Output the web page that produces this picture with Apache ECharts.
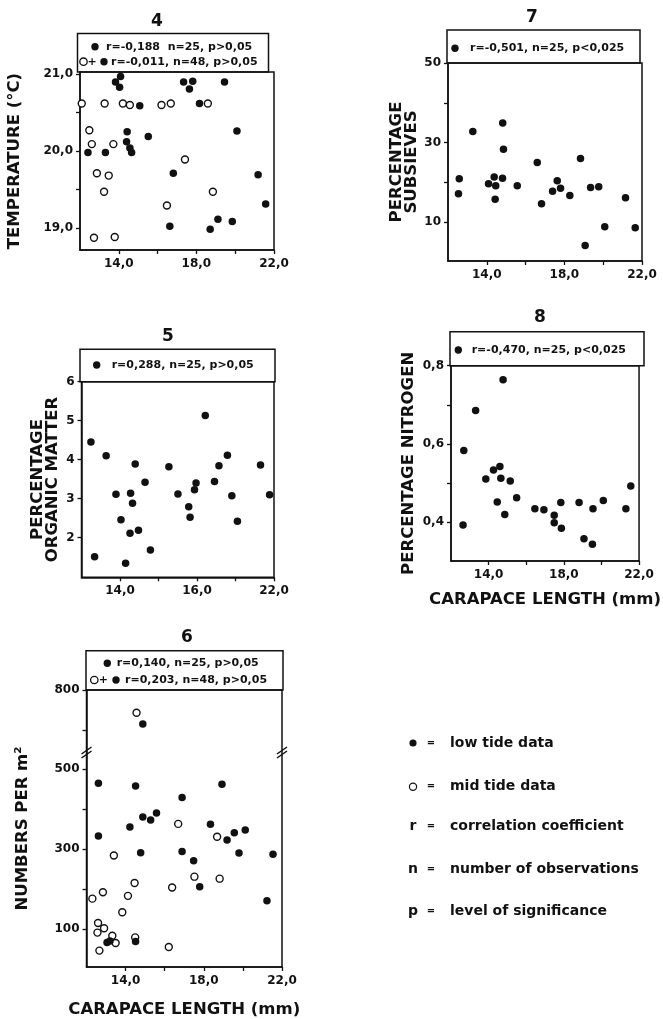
<!DOCTYPE html>
<html>
<head>
<meta charset="utf-8">
<script src="https://cdn.jsdelivr.net/npm/echarts@6.0.0/dist/echarts.min.js"></script>
<style>
html, body { margin: 0; padding: 0; background: #fff; }
#chart { width: 663px; height: 1019px; }
</style>
</head>
<body>
<div id="chart"></div>
<script>
// x axis (carapace length, mm) - same for all panels
var xTickValues = [14, 16, 18, 20, 22];
var xLabelValues = [14, 18, 22];
var xLabels = ['14,0', '18,0', '22,0'];
var xLabels5 = ['14,0', '16,0', '22,0'];

// 4: temperature
var tempLow = [[12.41,19.98],[13.31,19.98],[13.83,20.90],[14.09,20.97],[14.04,20.83],[14.43,20.25],[14.40,20.12],
  [14.57,20.04],[14.66,19.98],[15.08,20.59],[15.52,20.19],[16.81,19.71],[16.63,19.02],[17.34,20.90],[17.64,20.81],
  [17.81,20.91],[18.16,20.62],[18.71,18.98],[19.11,19.11],[19.45,20.90],[19.85,19.08],[20.09,20.26],[21.18,19.69],[21.57,19.31]];
var tempMid = [[12.09,20.62],[12.48,20.27],[12.61,20.09],[12.87,19.71],[13.24,19.47],[13.48,19.68],[12.72,18.87],
  [13.79,18.88],[13.27,20.62],[13.72,20.09],[14.21,20.62],[14.57,20.60],[16.20,20.60],[16.68,20.62],[16.48,19.29],
  [17.41,19.89],[18.59,20.62],[18.85,19.47]];
var tempTicks = [19, 19.5, 20, 20.5, 21];
var tempLabelValues = [19, 20, 21];
var tempLabels = ['19,0', '20,0', '21,0'];

// 7: percentage subsieves
var subLow = [[12.54,17.1],[12.58,20.9],[13.28,32.8],[14.09,19.6],[14.38,21.3],[14.46,19.1],[14.43,15.7],[14.81,21.0],
  [14.82,34.9],[14.86,28.3],[15.57,19.1],[16.60,25.0],[16.82,14.6],[17.39,17.75],[17.63,20.4],[17.80,18.5],
  [18.28,16.7],[18.83,26.0],[19.07,4.1],[19.35,18.7],[19.77,18.9],[20.08,8.8],[21.15,16.1],[21.65,8.55]];
var subTicks = [10, 20, 30, 40, 50];
var subLabelValues = [10, 30, 50];
var subLabels = ['10', '30', '50'];

// 5: percentage organic matter
var orgLow = [[12.49,4.45],[12.68,1.51],[13.28,4.10],[13.79,3.11],[14.05,2.46],[14.29,1.34],[14.52,2.11],[14.55,3.14],
  [14.65,2.88],[14.79,3.89],[14.96,2.19],[15.30,3.42],[15.58,1.68],[16.54,3.82],[17.01,3.12],[17.57,2.79],
  [17.64,2.52],[17.87,3.23],[17.95,3.40],[18.43,5.13],[18.91,3.44],[19.14,3.84],[19.58,4.11],[19.81,3.07],
  [20.10,2.42],[21.30,3.86],[21.77,3.10]];
var orgTicks = [2, 3, 4, 5, 6];
var orgLabels = ['2', '3', '4', '5', '6'];

// 8: percentage nitrogen
var nitLow = [[12.68,0.583],[12.64,0.392],[13.31,0.685],[13.85,0.510],[14.26,0.533],[14.60,0.542],[14.65,0.512],
  [14.46,0.451],[14.77,0.764],[14.86,0.419],[15.15,0.505],[15.49,0.462],[16.46,0.434],[16.94,0.431],[17.49,0.417],
  [17.49,0.398],[17.84,0.450],[17.87,0.384],[18.81,0.450],[19.07,0.357],[19.55,0.434],[19.52,0.343],[20.10,0.455],
  [21.30,0.434],[21.56,0.492]];
var nitTicks = [0.4, 0.5, 0.6, 0.7, 0.8];
var nitLabelValues = [0.4, 0.6, 0.8];
var nitLabels = ['0,4', '0,6', '0,8'];

// 6: numbers per m2
var numLow = [[12.61,465],[12.61,333],[13.05,66],[13.2,70],[14.22,355],[14.51,458],[14.51,69],[14.77,291],[14.88,380],
  [14.88,715],[15.28,373],[15.58,390],[16.89,429],[16.89,294],[17.48,271],[17.79,206],[18.34,362],[18.93,462],
  [19.19,323],[19.56,341],[19.80,290],[20.12,348],[21.23,171],[21.54,287]];
var numMid = [[14.56,743],[13.40,284],[12.30,176],[12.84,192],[12.59,115],[12.56,91],[12.90,102],[12.66,46],
  [13.32,83],[13.49,65],[13.83,142],[14.12,183],[14.46,215],[14.49,79],[16.38,204],[16.21,55],[16.69,363],
  [17.52,231],[18.68,331],[18.81,226]];
var numTicks = [100, 200, 300, 400, 500, 700, 800];
var numLabelValues = [100, 300, 500, 800];
var numLabels = ['100', '300', '500', '800'];

var stats4 = ['r=-0,188  n=25, p>0,05', 'r=-0,011, n=48, p>0,05'];
var stats7 = ['r=-0,501, n=25, p<0,025'];
var stats5 = ['r=0,288, n=25, p>0,05'];
var stats8 = ['r=-0,470, n=25, p<0,025'];
var stats6 = ['r=0,140, n=25, p>0,05', 'r=0,203, n=48, p>0,05'];

var legendKeys = ['low', 'mid', 'r', 'n', 'p'];
var legendTexts = ['low tide data', 'mid tide data', 'correlation coefficient', 'number of observations', 'level of significance'];

var INK = '#111';
var FONT = 'DejaVu Sans';

var chart = echarts.init(document.getElementById('chart'));

function labelFor(values, labels) {
    return function (v) {
        for (var i = 0; i < values.length; i++) {
            if (Math.abs(values[i] - v) < 1e-6) return labels[i];
        }
        return '';
    };
}

function xAxisFor(idx, labels, name) {
    return {
        type: 'value', gridIndex: idx, min: 12, max: 22,
        axisLine: { show: true, lineStyle: { color: INK, width: 1.5 } },
        axisTick: { show: true, length: 4, lineStyle: { color: INK, width: 1.3 }, customValues: xTickValues },
        axisLabel: { customValues: xLabelValues, formatter: labelFor(xLabelValues, labels), color: INK,
            fontFamily: FONT, fontWeight: 'bold', fontSize: 12, margin: 8, showMaxLabel: true },
        splitLine: { show: false },
        name: name || '', nameLocation: 'middle', nameGap: 30,
        nameTextStyle: { color: INK, fontFamily: FONT, fontWeight: 'bold', fontSize: 16.5 }
    };
}

function yAxisFor(idx, min, max, ticks, labelValues, labels, name, gap, extra) {
    var ax = {
        type: 'value', gridIndex: idx, min: min, max: max,
        axisLine: { show: true, lineStyle: { color: INK, width: 1.5 } },
        axisTick: { show: true, length: 4, lineStyle: { color: INK, width: 1.3 }, customValues: ticks },
        axisLabel: { customValues: labelValues, formatter: labelFor(labelValues, labels), color: INK,
            fontFamily: FONT, fontWeight: 'bold', fontSize: 12, margin: 7 },
        splitLine: { show: false },
        name: name, nameLocation: 'middle', nameRotate: 90, nameGap: gap,
        nameTextStyle: { color: INK, fontFamily: FONT, fontWeight: 'bold', fontSize: 16.5, lineHeight: 15 }
    };
    for (var k in extra) ax[k] = extra[k];
    return ax;
}

var gridStyle = { show: true, borderColor: INK, borderWidth: 1.5, containLabel: false };
function gridAt(left, top, width, height) {
    return Object.assign({ left: left, top: top, width: width, height: height }, gridStyle);
}

function lowSeries(idx, data) {
    return { type: 'scatter', xAxisIndex: idx, yAxisIndex: idx, data: data, symbol: 'circle', symbolSize: 7.5,
        itemStyle: { color: INK, opacity: 1 }, z: 3, silent: true };
}
function midSeries(idx, data) {
    return { type: 'scatter', xAxisIndex: idx, yAxisIndex: idx, data: data, symbol: 'circle', symbolSize: 7,
        itemStyle: { color: '#fff', borderColor: INK, borderWidth: 1.4, opacity: 1 }, z: 2, silent: true };
}

// decorations: header boxes with statistics, panel numbers, legend
var graphics = [];
function header(x, y, w, h, rows) {
    graphics.push({ type: 'rect', shape: { x: x, y: y, width: w, height: h },
        style: { fill: 'none', stroke: INK, lineWidth: 1.5 }, silent: true });
    rows.forEach(function (r) {
        r.keys.forEach(function (k) {
            if (k[0] === 'plus') {
                graphics.push({ type: 'text', x: k[1], y: r.y, style: { text: '+', fill: INK, font: 'bold 11px ' + FONT,
                    align: 'center', verticalAlign: 'middle' }, silent: true });
            } else {
                graphics.push({ type: 'circle', shape: { cx: k[1], cy: r.y, r: 3.7 },
                    style: k[0] === 'low' ? { fill: INK } : { fill: '#fff', stroke: INK, lineWidth: 1.3 }, silent: true });
            }
        });
        graphics.push({ type: 'text', x: r.tx, y: r.y, style: { text: r.text, fill: INK, font: 'bold 11px ' + FONT,
            align: 'left', verticalAlign: 'middle' }, silent: true });
    });
}
header(77.5, 33.5, 191, 38.5, [
    { y: 46.7, keys: [['low', 95]], text: stats4[0], tx: 106 },
    { y: 61.7, keys: [['mid', 83.5], ['plus', 92], ['low', 104]], text: stats4[1], tx: 111 }]);
header(447, 30, 193, 33, [{ y: 48.3, keys: [['low', 455]], text: stats7[0], tx: 470 }]);
header(80, 349.3, 195, 32.4, [{ y: 365, keys: [['low', 96.7]], text: stats5[0], tx: 111.7 }]);
header(450, 331.7, 194, 34, [{ y: 350, keys: [['low', 458.3]], text: stats8[0], tx: 471.7 }]);
header(86, 650.7, 197, 39.3, [
    { y: 663.3, keys: [['low', 107.3]], text: stats6[0], tx: 116.7 },
    { y: 680, keys: [['mid', 94.3], ['plus', 103.3], ['low', 116]], text: stats6[1], tx: 125 }]);

[['4', 157, 22], ['7', 532, 18], ['5', 168, 337], ['8', 540, 318], ['6', 187, 638]].forEach(function (t) {
    graphics.push({ type: 'text', x: t[1], y: t[2], style: { text: t[0], fill: INK, font: 'bold 17px ' + FONT,
        align: 'center', verticalAlign: 'middle' }, silent: true });
});

// axis break marks on panel 6
[86.5, 282].forEach(function (bx) {
    [0, 4].forEach(function (dy) {
        graphics.push({ type: 'line', shape: { x1: bx - 5, y1: 754 + dy, x2: bx + 5, y2: 747 + dy },
            style: { stroke: INK, lineWidth: 1.5 }, silent: true });
    });
});

var legendY = [743, 786.7, 826.7, 869.3, 911.7];
legendKeys.forEach(function (k, i) {
    if (k === 'low' || k === 'mid') {
        graphics.push({ type: 'circle', shape: { cx: 413, cy: legendY[i], r: 3.6 },
            style: k === 'low' ? { fill: INK } : { fill: '#fff', stroke: INK, lineWidth: 1.2 }, silent: true });
    } else {
        graphics.push({ type: 'text', x: 413, y: legendY[i], style: { text: k, fill: INK, font: 'bold 14px ' + FONT,
            align: 'center', verticalAlign: 'middle' }, silent: true });
    }
    graphics.push({ type: 'text', x: 431, y: legendY[i], style: { text: '=', fill: INK, font: 'bold 10px ' + FONT,
        align: 'center', verticalAlign: 'middle' }, silent: true });
    graphics.push({ type: 'text', x: 450, y: legendY[i], style: { text: legendTexts[i], fill: INK,
        font: 'bold 14px ' + FONT, align: 'left', verticalAlign: 'middle' }, silent: true });
});

var option = {
    animation: false,
    backgroundColor: '#fff',
    grid: [
        gridAt(80, 72, 194, 178),
        gridAt(448, 63, 194, 198),
        gridAt(81.5, 381.7, 192.5, 195.6),
        gridAt(451, 365.7, 193, 195.3),
        gridAt(86.5, 690, 195.5, 277)
    ],
    xAxis: [
        xAxisFor(0, xLabels),
        xAxisFor(1, xLabels),
        xAxisFor(2, xLabels5),
        xAxisFor(3, xLabels, 'CARAPACE LENGTH (mm)'),
        Object.assign(xAxisFor(4, xLabels, 'CARAPACE LENGTH (mm)'), { nameGap: 34 })
    ],
    yAxis: [
        yAxisFor(0, 18.71, 21.03, tempTicks, tempLabelValues, tempLabels, 'TEMPERATURE (°C)', 58),
        yAxisFor(1, 0.2, 50, subTicks, subLabelValues, subLabels, 'PERCENTAGE\nSUBSIEVES', 18),
        yAxisFor(2, 0.98, 6, orgTicks, orgTicks, orgLabels, 'PERCENTAGE\nORGANIC MATTER', 21),
        yAxisFor(3, 0.3, 0.8, nitTicks, nitLabelValues, nitLabels, 'PERCENTAGE NITROGEN', 35),
        yAxisFor(4, 5, 800, numTicks, numLabelValues, numLabels, 'NUMBERS PER m²', 56, {
            breaks: [{ start: 540, end: 642, gap: 0 }],
            breakArea: { show: false }
        })
    ],
    series: [
        midSeries(0, tempMid), lowSeries(0, tempLow),
        lowSeries(1, subLow),
        lowSeries(2, orgLow),
        lowSeries(3, nitLow),
        midSeries(4, numMid), lowSeries(4, numLow)
    ],
    graphic: { elements: graphics }
};

chart.setOption(option);
</script>
</body>
</html>
